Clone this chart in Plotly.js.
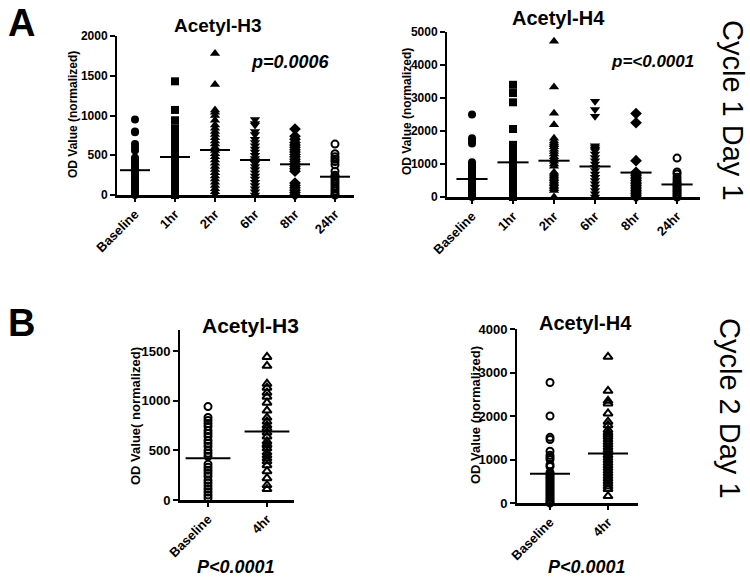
<!DOCTYPE html>
<html>
<head>
<meta charset="utf-8">
<script src="https://cdn.plot.ly/plotly-3.0.1.min.js"></script>
<style>html,body{margin:0;padding:0;background:#fff;}#chart{width:750px;height:579px;}</style>
</head>
<body>
<div id="chart"></div>
<script>
// ---- categories ----
const catsA = ['Baseline', '1hr', '2hr', '6hr', '8hr', '24hr'];
const catsB = ['Baseline', '4hr'];

// ---- Cycle 1 Day 1, Acetyl-H3 ----
const h3c1_baseline = [950, 800, 790, 640, 600, 560, 470, 450, 420, 400, 380, 350, 330, 300, 280, 260, 240, 220, 200, 180, 160, 140, 120, 100, 80, 60, 40, 20, 10, 0];
const h3c1_1hr = [1430, 1070, 940, 840, 810, 780, 750, 720, 690, 660, 630, 600, 570, 540, 510, 480, 450, 420, 390, 360, 330, 300, 270, 240, 210, 180, 150, 120, 90, 60, 30, 0, 20, 50, 100, 200];
const h3c1_2hr = [1780, 1390, 1070, 1040, 1000, 940, 880, 840, 800, 760, 720, 680, 640, 600, 560, 520, 480, 440, 400, 360, 320, 280, 240, 200, 160, 120, 80, 40, 0];
const h3c1_6hr = [950, 900, 880, 800, 760, 700, 660, 620, 580, 540, 500, 460, 430, 400, 360, 320, 280, 240, 200, 160, 120, 80, 40, 0];
const h3c1_8hr = [830, 740, 700, 660, 630, 600, 570, 540, 510, 480, 450, 420, 390, 360, 330, 300, 150, 120, 90, 60, 30, 0];
const h3c1_24hr = [640, 520, 480, 450, 420, 380, 300, 250, 230, 200, 170, 140, 110, 80, 50, 20, 0];
const h3c1_means = [312, 478, 566, 440, 386, 230];

// ---- Cycle 1 Day 1, Acetyl-H4 ----
const h4c1_baseline = [2500, 1780, 1700, 1620, 1050, 1000, 950, 900, 850, 800, 750, 700, 650, 600, 550, 500, 450, 400, 350, 300, 250, 200, 150, 100, 50, 0, 80, 120, 180, 220, 280, 320, 380, 20];
const h4c1_1hr = [3400, 3150, 2870, 2060, 1580, 1470, 1300, 1240, 1180, 1120, 1060, 1000, 940, 880, 820, 760, 700, 640, 580, 520, 460, 400, 340, 280, 220, 160, 100, 40, 0];
const h4c1_2hr = [4720, 3330, 2540, 2190, 1780, 1700, 1640, 1580, 1520, 1450, 1380, 1300, 1220, 1150, 1080, 1000, 930, 750, 700, 650, 600, 550, 500, 450, 400, 350, 300, 250, 200, 0];
const h4c1_6hr = [2900, 2650, 2450, 1550, 1500, 1450, 1400, 1300, 1200, 1100, 1000, 900, 800, 700, 600, 500, 400, 300, 200, 100, 0];
const h4c1_8hr = [2530, 2250, 1100, 750, 700, 650, 600, 550, 500, 450, 400, 350, 300, 250, 200, 150, 100, 50, 0];
const h4c1_24hr = [1180, 760, 700, 600, 520, 450, 400, 350, 300, 250, 200, 150, 100, 50, 0];
const h4c1_means = [545, 1050, 1100, 925, 740, 380];

// ---- Cycle 2 Day 1, Acetyl-H3 ----
const h3c2_baseline = [940, 830, 800, 770, 740, 700, 670, 640, 600, 570, 540, 500, 470, 440, 360, 330, 300, 270, 240, 200, 170, 140, 110, 80, 50, 20];
const h3c2_4hr = [1440, 1350, 1170, 1130, 1080, 1040, 980, 900, 830, 790, 750, 720, 680, 640, 590, 560, 550, 520, 480, 450, 420, 390, 350, 290, 220, 150, 110];
const h3c2_means = [420, 690];

// ---- Cycle 2 Day 1, Acetyl-H4 ----
const h4c2_baseline = [2770, 2000, 1510, 1460, 1190, 1100, 1050, 1000, 880, 840, 700, 660, 620, 580, 540, 500, 460, 420, 380, 340, 300, 260, 220, 180, 140, 100, 60, 20, 0];
const h4c2_4hr = [3360, 2580, 2350, 2290, 2060, 1870, 1790, 1680, 1620, 1570, 1520, 1460, 1400, 1340, 1280, 1220, 1160, 1100, 1040, 980, 920, 860, 800, 740, 680, 620, 560, 500, 440, 380, 320, 160];
const h4c2_means = [670, 1140];

// ---- y ticks ----
const ticksA1 = [0, 500, 1000, 1500, 2000];
const ticksA2 = [0, 1000, 2000, 3000, 4000, 5000];
const ticksB1 = [0, 500, 1000, 1500];
const ticksB2 = [0, 1000, 2000, 3000, 4000];

// ---- helpers ----
const W = 750, H = 579;
const px = v => v / W;
const py = v => 1 - v / H;
const FONT = 'Liberation Sans, Arial, Helvetica, sans-serif';

const traces = [];
function addGroup(xa, ya, idx, vals, symbol, size, open) {
  traces.push({
    type: 'scatter', mode: 'markers', xaxis: xa, yaxis: ya,
    x: vals.map(() => idx), y: vals, cliponaxis: false, showlegend: false,
    hoverinfo: 'y',
    marker: {
      symbol: symbol, size: size, color: '#000',
      line: {color: '#000', width: open ? 2 : 0}
    }
  });
}
function addMeans(xa, ya, means, half) {
  const xs = [], ys = [];
  means.forEach((m, i) => { xs.push(i - half, i + half, null); ys.push(m, m, null); });
  traces.push({type: 'scatter', mode: 'lines', xaxis: xa, yaxis: ya, x: xs, y: ys,
    line: {color: '#000', width: 2}, showlegend: false, hoverinfo: 'skip', cliponaxis: false});
}

const symA = ['circle', 'square', 'triangle-up', 'triangle-down', 'diamond', 'circle-open'];
const sizeA = [8, 8, 9, 9, 9, 7];
const h3c1 = [h3c1_baseline, h3c1_1hr, h3c1_2hr, h3c1_6hr, h3c1_8hr, h3c1_24hr];
const h4c1 = [h4c1_baseline, h4c1_1hr, h4c1_2hr, h4c1_6hr, h4c1_8hr, h4c1_24hr];
h3c1.forEach((v, i) => addGroup('x', 'y', i, v, symA[i], sizeA[i], i === 5));
addMeans('x', 'y', h3c1_means, 0.375);
h4c1.forEach((v, i) => addGroup('x2', 'y2', i, v, symA[i], sizeA[i], i === 5));
addMeans('x2', 'y2', h4c1_means, 0.38);

const symB = ['circle-open', 'triangle-up-open'];
const sizeB = [7, 8];
[h3c2_baseline, h3c2_4hr].forEach((v, i) => addGroup('x3', 'y3', i, v, symB[i], sizeB[i], true));
addMeans('x3', 'y3', h3c2_means, 0.38);
[h4c2_baseline, h4c2_4hr].forEach((v, i) => addGroup('x4', 'y4', i, v, symB[i], sizeB[i], true));
addMeans('x4', 'y4', h4c2_means, 0.345);

function xAxis(domain, range, cats, anchor) {
  return {
    domain: domain, range: range, anchor: anchor,
    tickmode: 'array', tickvals: cats.map((c, i) => i), ticktext: cats,
    tickangle: -45, ticks: 'outside', ticklen: 4, tickwidth: 2, tickcolor: '#000',
    showline: true, linewidth: 2.5, linecolor: '#000',
    showgrid: false, zeroline: false, fixedrange: true,
    tickfont: {family: FONT, size: 13, color: '#000', weight: 'bold'}
  };
}
function yAxis(domain, range, tv, anchor, fs) {
  return {
    domain: domain, range: range, anchor: anchor,
    tickmode: 'array', tickvals: tv, ticktext: tv.map(String),
    ticks: 'outside', ticklen: 5, tickwidth: 2, tickcolor: '#000',
    showline: true, linewidth: 2, linecolor: '#000',
    showgrid: false, zeroline: false, fixedrange: true,
    tickfont: {family: FONT, size: fs, color: '#000', weight: 'bold'}
  };
}

function ann(text, x, y, size, opts) {
  return Object.assign({
    text: text, x: px(x), y: py(y), xref: 'paper', yref: 'paper',
    showarrow: false, xanchor: 'center', yanchor: 'middle',
    font: {family: FONT, size: size, color: '#000'}
  }, opts || {});
}

const annotations = [
  ann('<b>A</b>', 21, 23, 38),
  ann('<b>B</b>', 21, 323, 38),
  ann('<b>Acetyl-H3</b>', 218, 25, 19),
  ann('<b>Acetyl-H4</b>', 558, 18, 20),
  ann('<b>Acetyl-H3</b>', 250, 325, 21),
  ann('<b>Acetyl-H4</b>', 585, 323, 20),
  ann('<b><i>p=0.0006</i></b>', 290, 62, 18),
  ann('<b><i>p=&lt;0.0001</i></b>', 652, 62, 17),
  ann('<b><i>P&lt;0.0001</i></b>', 236, 567, 18),
  ann('<b><i>P&lt;0.0001</i></b>', 587, 567, 18),
  ann('<b>OD Value (normalized)</b>', 73, 115, 12, {textangle: -90}),
  ann('<b>OD Value (normalized)</b>', 407, 112, 12, {textangle: -90}),
  ann('<b>OD Value( normalized)</b>', 135, 416, 13, {textangle: -90}),
  ann('<b>OD Value (normalized)</b>', 475, 415, 13, {textangle: -90}),
  ann('Cycle 1 Day 1', 733, 110, 29, {textangle: 90}),
  ann('Cycle 2 Day 1', 730, 408, 29, {textangle: 90})
];

const layout = {
  width: W, height: H,
  margin: {l: 0, r: 0, t: 0, b: 0},
  paper_bgcolor: '#fff', plot_bgcolor: 'rgba(0,0,0,0)',
  showlegend: false,
  font: {family: FONT, color: '#000'},
  xaxis: xAxis([px(117), px(354)], [-0.45, 5.475], catsA, 'y'),
  yaxis: yAxis([py(195), py(36)], [0, 2000], ticksA1, 'x', 12),
  xaxis2: xAxis([px(447), px(700)], [-0.61, 5.56], catsA, 'y2'),
  yaxis2: yAxis([py(197), py(32)], [0, 5000], ticksA2, 'x2', 12),
  xaxis3: xAxis([px(180), px(294)], [-0.475, 1.458], catsB, 'y3'),
  yaxis3: yAxis([py(500), py(330)], [0, 1711], ticksB1, 'x3', 13),
  xaxis4: xAxis([px(517), px(638)], [-0.569, 1.517], catsB, 'y4'),
  yaxis4: yAxis([py(503), py(329)], [0, 4000], ticksB2, 'x4', 13),
  annotations: annotations
};

Plotly.newPlot('chart', traces, layout, {displayModeBar: false, staticPlot: true});
</script>
</body>
</html>
